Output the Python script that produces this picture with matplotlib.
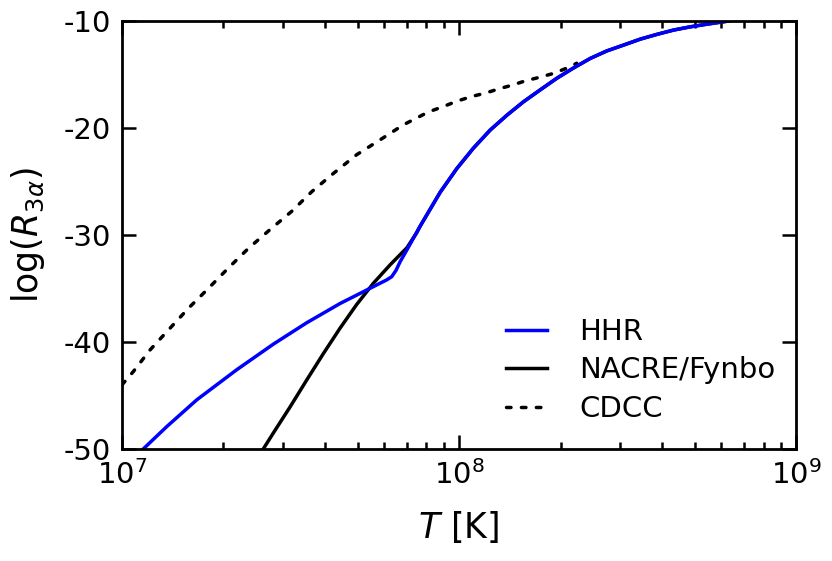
import numpy as np
import matplotlib.pyplot as plt

plt.rcParams['axes.unicode_minus'] = False
plt.rcParams['mathtext.fontset'] = 'dejavusans'

# log10(T) and log(R_3alpha)
hhr_logT = [7.063, 7.133, 7.222, 7.34, 7.449, 7.548, 7.647, 7.716, 7.766,
            7.785, 7.80, 7.813, 7.825, 7.845, 7.884, 7.914, 7.944, 7.993,
            8.042, 8.092, 8.142, 8.191, 8.24, 8.29, 8.339, 8.389, 8.438,
            8.488, 8.537, 8.587, 8.636, 8.685, 8.735, 8.774, 8.80]
hhr_rate = [-50.0, -47.9, -45.4, -42.6, -40.2, -38.2, -36.4, -35.3, -34.5,
            -34.2, -33.9, -33.3, -32.5, -31.4, -29.2, -27.6, -26.0, -23.8,
            -21.9, -20.2, -18.8, -17.55, -16.45, -15.35, -14.4, -13.5, -12.8,
            -12.25, -11.7, -11.25, -10.85, -10.55, -10.3, -10.12, -10.0]

nacre_logT = [7.419, 7.449, 7.499, 7.548, 7.597, 7.647, 7.696, 7.746, 7.795,
              7.845, 7.874, 7.884, 7.914, 7.944, 7.993, 8.042, 8.092, 8.142,
              8.191, 8.24, 8.29, 8.339, 8.389, 8.438, 8.488, 8.537, 8.587,
              8.636, 8.685, 8.735, 8.774, 8.80]
nacre_rate = [-50.0, -48.5, -46.05, -43.55, -41.1, -38.7, -36.5, -34.5, -32.8,
              -31.2, -29.8, -29.2, -27.6, -26.0, -23.8, -21.9, -20.2, -18.8,
              -17.55, -16.45, -15.35, -14.4, -13.5, -12.8, -12.25, -11.7, -11.25,
              -10.85, -10.55, -10.3, -10.12, -10.0]

cdcc_logT = [7.0, 7.034, 7.083, 7.137, 7.197, 7.256, 7.315, 7.375, 7.439,
             7.503, 7.563, 7.627, 7.696, 7.766, 7.835, 7.909, 7.953, 7.993,
             8.038, 8.077, 8.117, 8.157, 8.196, 8.24, 8.28, 8.32, 8.349]
cdcc_rate = [-44.0, -42.75, -40.75, -38.9, -36.85, -35.0, -33.1, -31.25, -29.5,
             -27.8, -25.95, -24.25, -22.5, -21.1, -19.7, -18.5, -18.0, -17.5,
             -17.05, -16.75, -16.35, -16.0, -15.6, -15.25, -14.9, -14.4, -13.95]

fig = plt.figure(figsize=(8.32, 5.61), dpi=100)
ax = fig.add_axes([0.1466, 0.1996, 0.8104, 0.763])

l_nacre, = ax.plot(10**np.array(nacre_logT), nacre_rate, color='black', lw=2.5,
                   label='NACRE/Fynbo')
l_cdcc, = ax.plot(10**np.array(cdcc_logT), cdcc_rate, color='black', lw=2.5,
                  dashes=(1.3, 3.0), dash_capstyle='round', label='CDCC')
l_hhr, = ax.plot(10**np.array(hhr_logT), hhr_rate, color='blue', lw=2.5,
                 label='HHR')

ax.set_xscale('log')
ax.set_xlim(1e7, 1e9)
ax.set_ylim(-50, -10)
ax.set_yticks([-50, -40, -30, -20, -10])

for s in ax.spines.values():
    s.set_linewidth(2)
ax.tick_params(which='both', direction='in', top=True, right=True, width=1.8,
               labelsize=21)
ax.tick_params(which='major', length=10, pad=8)
ax.tick_params(which='minor', length=5)
ax.tick_params(axis='y', which='minor', left=False, right=False)

ax.set_xlabel(r'$T$ [K]', fontsize=25, labelpad=14)
ax.set_ylabel(r'$\log(R_{3\alpha})$', fontsize=25, labelpad=12)

ax.legend(handles=[l_hhr, l_nacre, l_cdcc], loc='lower right', frameon=False,
          fontsize=21, handlelength=1.4, handletextpad=1.1,
          bbox_to_anchor=(1.008, 0.0), labelspacing=0.36)

fig.savefig('out.png', dpi=100)
